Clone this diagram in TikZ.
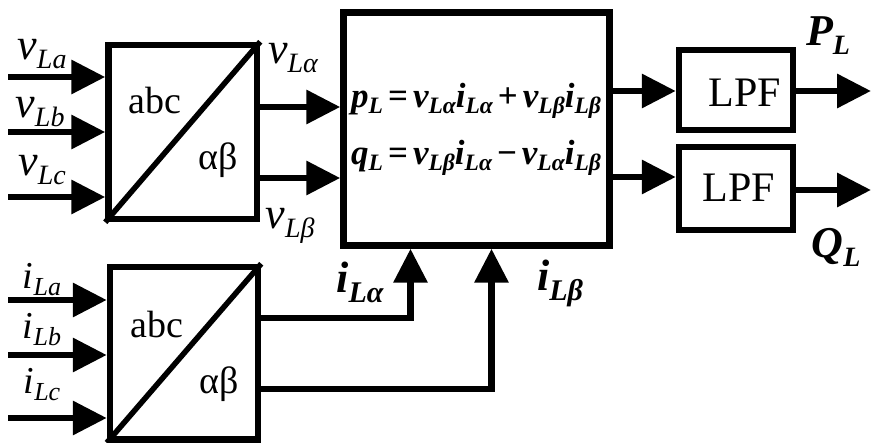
\documentclass[tikz,border=0pt]{standalone}
\usepackage{fontspec}
\setmainfont{Liberation Serif}
\usetikzlibrary{arrows.meta}
\newcommand{\fsz}[1]{\fontsize{#1}{#1}\selectfont}
% italic symbol with subscript: {size}{subsize}{drop}{base}{sub}
\newcommand{\isym}[5]{{\fsz{#1}\itshape #4}\raisebox{-#3pt}{\fsz{#2}\itshape #5}}
\newcommand{\bsym}[5]{{\fsz{#1}\bfseries\itshape #4}\raisebox{-#3pt}{\fsz{#2}\bfseries\itshape #5}}
\newcommand{\eqs}[2]{\bsym{35}{23.5}{6}{#1}{#2}}
\newcommand{\eqop}[1]{\hspace{5pt}{\fsz{35}\bfseries #1}\hspace{5pt}}
\begin{document}
\begin{tikzpicture}[x=1pt,y=-1pt,
  box/.style={draw, line width=6.5pt, minimum width=#1},
  arr/.style={line width=6.5pt, -{Triangle[length=34pt,width=33pt]}},
  lbl/.style={inner sep=0pt, anchor=center},
]
\useasboundingbox (0,0) rectangle (872,443);
% boxes
\node[box=148.5pt, minimum height=174pt] (T) at (182.75,132) {};
\node[box=148pt, minimum height=172.5pt] (B) at (184,353.25) {};
\node[box=266pt, minimum height=233pt] (M) at (476.5,129) {};
\node[box=114pt, minimum height=80pt] (F1) at (736,90) {};
\node[box=114pt, minimum height=83pt] (F2) at (736,188.5) {};
\draw[line width=5.5pt] (T.south west) -- (T.north east);
\draw[line width=5.5pt] (B.south west) -- (B.north east);
% box texts
\node[lbl] (Tabc) at (155,101) {\fsz{38}abc};
\node[lbl] (Tab) at (218,160) {\fsz{38}αβ};
\node[lbl] (Babc) at (157,325) {\fsz{38}abc};
\node[lbl] (Bab) at (219,384) {\fsz{38}αβ};
\node[lbl] (F1t) at (745,93) {\fsz{42}LPF};
\node[lbl] (F2t) at (739,188) {\fsz{42}LPF};
\node[lbl, anchor=west] (eq1) at (351,101) {\eqs{p}{L}\eqop{=}\eqs{v}{Lα}\eqs{i}{Lα}\eqop{+}\eqs{v}{Lβ}\eqs{i}{Lβ}};
\node[lbl, anchor=west] (eq2) at (351,158) {\eqs{q}{L}\eqop{=}\eqs{v}{Lβ}\eqs{i}{Lα}\eqop{−}\eqs{v}{Lα}\eqs{i}{Lβ}};
% input coordinates
\coordinate (va) at (8,77);
\coordinate (vb) at (8,132);
\coordinate (vc) at (8,197);
\coordinate (ia) at (8,300);
\coordinate (ib) at (8,355);
\coordinate (ic) at (8,418);
\foreach \c/\bx in {va/T,vb/T,vc/T,ia/B,ib/B,ic/B}
  \draw[arr] (\c) -- (\c -| \bx.west);
% input labels
\node[lbl] (lva) at (42,54) {\isym{44}{28}{9}{v}{La}};
\node[lbl] (lvb) at (40,112) {\isym{44}{28}{9}{v}{Lb}};
\node[lbl] (lvc) at (42,170) {\isym{44}{28}{9}{v}{Lc}};
\node[lbl] (lia) at (42,280) {\isym{38}{26}{7}{i}{La}};
\node[lbl] (lib) at (42,330) {\isym{38}{26}{7}{i}{Lb}};
\node[lbl] (lic) at (42,385) {\isym{38}{26}{7}{i}{Lc}};
% top outputs
\coordinate (oa) at (300,107);
\coordinate (ob) at (300,178);
\draw[arr] (T.east |- oa) -- (M.west |- oa);
\draw[arr] (T.east |- ob) -- (M.west |- ob);
\node[lbl] (lvalpha) at (293,58) {\isym{44}{28}{9}{v}{Lα}};
\node[lbl] (lvbeta) at (290,226) {\isym{44}{28}{9}{v}{Lβ}};
% bottom outputs
\coordinate (pa) at (410.5,318);
\coordinate (pb) at (491.5,389);
\draw[arr] (B.east |- pa) -| (pa |- M.south);
\draw[arr] (B.east |- pb) -| (pb |- M.south);
\node[lbl] (lialpha) at (360,282) {\bsym{44}{30}{10}{i}{Lα}};
\node[lbl] (libeta) at (560,283) {\bsym{44}{30}{10}{i}{Lβ}};
% main to LPF
\coordinate (ma) at (640,91);
\coordinate (mb) at (640,177);
\draw[arr] (M.east |- ma) -- (F1.west |- ma);
\draw[arr] (M.east |- mb) -- (F2.west |- mb);
% LPF outputs
\coordinate (ea) at (871,91);
\coordinate (eb) at (871,190);
\draw[arr] (F1.east |- ea) -- (ea);
\draw[arr] (F2.east |- eb) -- (eb);
\node[lbl] (lP) at (828,36) {\bsym{44}{28}{9}{P}{L}};
\node[lbl] (lQ) at (836,247) {\bsym{44}{28}{9}{Q}{L}};
\end{tikzpicture}
\end{document}
